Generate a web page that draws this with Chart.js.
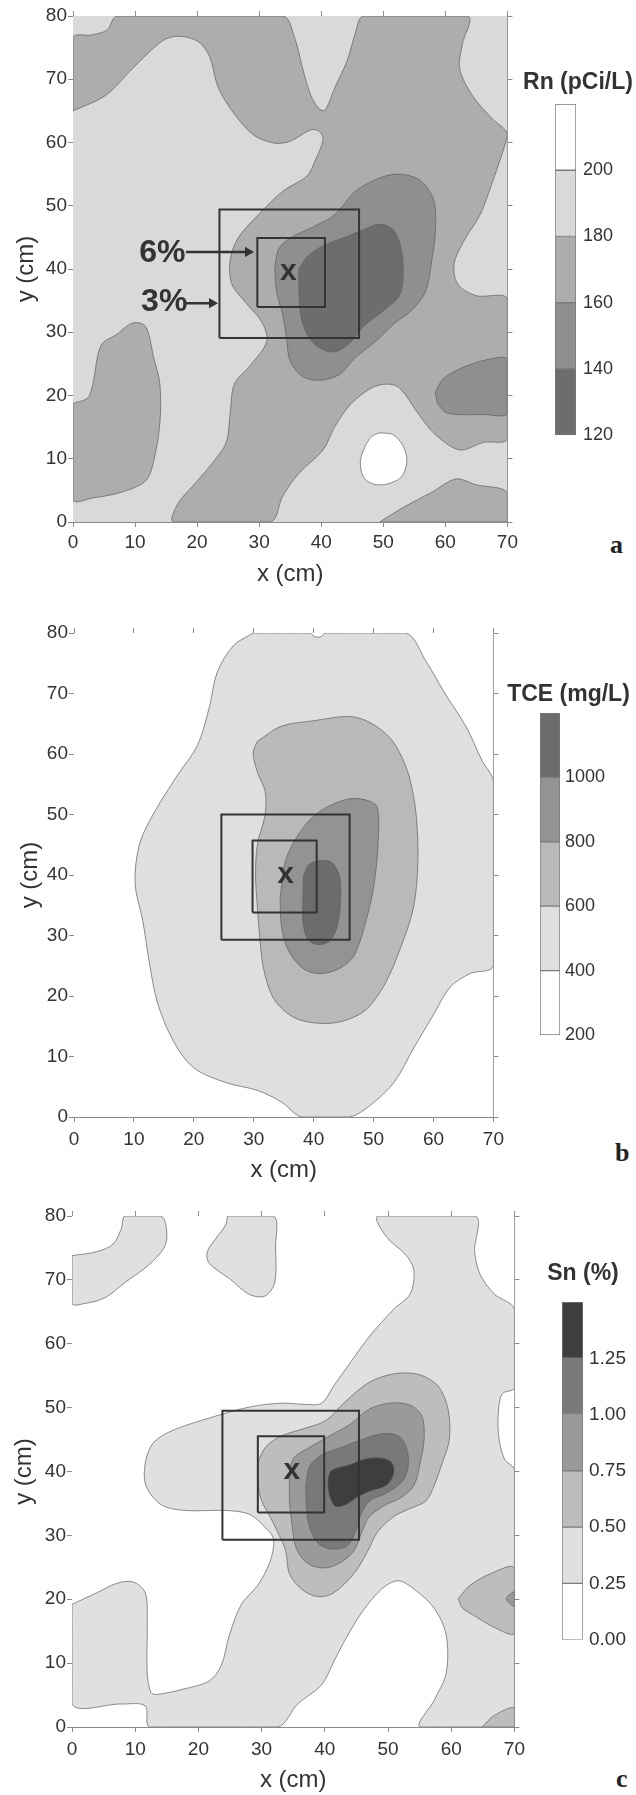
<!DOCTYPE html>
<html>
<head>
<meta charset="utf-8">
<script src="https://cdn.jsdelivr.net/npm/chart.js@4.4.1/dist/chart.umd.min.js"></script>
<style>
  html, body { margin: 0; padding: 0; background: #fff; }
  body { position: relative; width: 636px; height: 1795px; overflow: hidden; }
  canvas { position: absolute; }
  .tag { position: absolute; font: bold 26px "Liberation Serif", "Times New Roman", serif; line-height: 26px; color: #222; }
</style>
</head>
<body>
<canvas id="mainA" width="522" height="600" style="left:0;top:0"></canvas>
<canvas id="barA" width="116" height="393" style="left:520px;top:60px"></canvas>
<canvas id="mainB" width="510" height="595" style="left:0;top:600px"></canvas>
<canvas id="barB" width="127" height="381" style="left:505px;top:670px"></canvas>
<canvas id="mainC" width="531" height="600" style="left:0;top:1195px"></canvas>
<canvas id="barC" width="106" height="407" style="left:530px;top:1250px"></canvas>
<div class="tag" style="left:610px;top:532px">a</div>
<div class="tag" style="left:615px;top:1140px">b</div>
<div class="tag" style="left:616px;top:1766px">c</div>
<script>
// ---- panel a : Rn (pCi/L) ----
const rnLevels = [120, 140, 160, 180, 200, 220];
const rnTicks = [120, 140, 160, 180, 200];
const rnBase = [[0,0],[70,0],[70,80],[0,80]];
const rnSwath = [[0,65],[0,76.6],[3,77],[5.5,77.8],[7.1,80],
  [33.8,80],[35.7,76.6],[37,71.7],[38.3,67.5],[39.6,65.4],[40.6,65.1],[42.2,68.7],[44.2,73],[45.5,77.3],[46.8,80],
  [63.6,80],[62.7,75.4],[62.3,71.7],[64.3,67.5],[67.5,63.8],[70,61.4],
  [69.2,58.4],[67.5,53.5],[65.6,48.6],[62.9,44.3],[61.4,40.7],[62,37.6],[64.9,35.8],[70,35.2],
  [70,13.2],[66.2,12.6],[62.3,11.4],[58.4,13.8],[55.8,16.9],[52.6,21.2],[50.6,21.8],[48.1,21.2],[44.8,18.7],
  [42.2,15.1],[40.3,11.4],[36.4,7.7],[33.8,4.1],[31.8,0],
  [16.2,0],[16.9,2.9],[19.5,5.9],[22.7,9.6],[24.7,12.6],[25.3,16.9],[26,21.8],[28.6,24.8],[31.2,28.5],
  [30.5,31.5],[27.9,34.6],[25.6,37.6],[25.3,41.3],[26.6,44.9],[29.9,48.6],[33.8,52.3],[37.7,54.7],[39,57.1],
  [40.3,60.5],[39.6,61.8],[38.3,62],[35,60.2],[32.5,59.9],[29.2,61.1],[26,64.5],[23.4,68.7],[22,73.6],
  [20.1,76],[16.9,76.8],[14.3,76],[9.7,71.8],[5.2,67.4]];
const rnLeftBlob = [[0,18.7],[2.6,19.9],[4.5,27.9],[7.1,29.7],[9.7,31.5],[11.7,30.9],[13,26],[14,21.8],
  [14,15.7],[13,9.6],[11.7,6.5],[7.8,4.7],[3.2,3.8],[0,3.5]];
const rnBottomStrip = [[49.4,0],[53.2,2.3],[57.8,4.7],[61.7,6.8],[64.9,5.9],[70,4.7],[70,0]];
const rnSpot = [[49.4,14.1],[51.6,13.8],[53.2,12],[53.8,9.6],[52.9,7.1],[50.6,6],[48.4,6],[46.8,7.1],
  [46.3,9.6],[47.1,12],[48.1,13.5]];
const rnRing = [[32.5,40],[33.1,43.1],[35,44.9],[39,46.8],[42.2,48.6],[45.5,52.3],[49.4,54.4],[52.6,55],
  [55.8,54.1],[58.1,51],[58.4,46.2],[57.8,41.3],[56.8,36.4],[54.5,33.4],[51.9,31.5],[48.7,28.5],[45.5,26],
  [42.9,23.3],[39.6,22.4],[37,23],[35,25.4],[34.4,29.1],[33.8,32.7],[32.8,36.4]];
const rnRightBlob = [[58.4,20.5],[59.7,22.7],[63,24.5],[66.9,25.7],[70,25.7],[70,17.2],[66.2,17],[60.4,17.2],[58.8,18.7]];
const rnCore = [[36.4,40],[37.7,41.9],[40.3,43.7],[43.5,44.9],[46.8,46.2],[49.4,47.1],[51.6,46.2],[52.9,43.1],
  [53.2,38.8],[52.6,35.8],[50,33.4],[46.8,30.9],[44.8,28.5],[42.2,26.9],[39.6,27.6],[37.7,29.7],[36.7,32.7],[36.4,36.4]];
const rnBoxes = [[23.6,29.1,46.1,49.4],[29.7,34,40.6,44.9]];
const rnCentre = [34.7, 39.1];
const rnArrows = [[18.2,42.7,28.2,42.7],[18.2,34.6,22.4,34.6]];
const rnArrowLabels = [['6%',14.4,42.5],['3%',14.7,34.8]];

// ---- panel b : TCE (mg/L) ----
const tceLevels = [200, 400, 600, 800, 1000, 1200];
const tceTicks = [200, 400, 600, 800, 1000];
const tceBase = [[0,0],[70,0],[70,80],[0,80]];
const tce400 = [[29.9,80],[39.4,80],[40.1,79.4],[41.3,79.4],[41.9,80],[55.4,80],[58.7,75.4],[62.1,69.7],
  [65.4,64.6],[68.1,58.9],[70,55.4],[70,25],[66.1,23.7],[62.8,21.5],[60.1,17.1],[56.7,11.4],[53.4,5.7],
  [49.4,1.9],[46,0],[38,0],[34.6,2.5],[30.6,4.4],[25.3,5.7],[19.9,8.2],[16.5,12.7],[13.9,19],[12.5,26],
  [11.5,32.3],[10.2,38.6],[10.9,45],[13.2,50],[17.2,56.4],[20.6,61.4],[22.6,67.8],[23.9,73.5],[26.6,77.9]];
const tce600 = [[30.6,62.1],[34.6,64.6],[40,65.5],[46,66.2],[49.4,65.2],[52.7,62.7],[54.7,59.5],[56.1,55.7],
  [57.1,50],[57.4,42.4],[56.7,34.8],[54.7,28.5],[52,22.2],[48.7,17.7],[44.7,15.8],[40.7,15.5],[36.6,16.5],
  [33.3,19.6],[31.6,24.7],[31,29.8],[30.6,34.8],[30.3,39.9],[30.6,45],[31.9,50],[31.9,53.8],[30.6,57],[29.9,60.2]];
const tce800 = [[34.4,36.1],[35.3,42.4],[38,47.5],[41.3,50.7],[46,52.6],[49.4,52.2],[50.7,51],[50.7,44.3],
  [50,38],[48.7,32.3],[46.7,26.6],[44,24.4],[40.7,23.7],[38,24.7],[35.6,27.9],[34.6,31.7]];
const tce1000 = [[38.3,39.9],[39.3,41.8],[41.3,42.4],[43,42.1],[44.3,39.9],[44.5,36.1],[44,31.7],[42.7,29.1],
  [40.7,28.5],[39,29.4],[38.2,32.3],[38.2,36.1]];
const tceBoxes = [[24.6,29.3,46,50],[29.8,33.8,40.5,45.7]];
const tceCentre = [35.3, 39.6];

// ---- panel c : Sn (%) ----
const snLevels = [0, 0.25, 0.5, 0.75, 1.0, 1.25, 1.5];
const snTicks = [0, 0.25, 0.5, 0.75, 1.0, 1.25];
const snBase = [[0,0],[70,0],[70,80],[0,80]];
const snSwath = [[0,19.2],[3.9,21],[7.1,22.5],[9.7,22.7],[11.6,21],[11.9,16.2],[11.9,8.4],[12.5,5.4],[13.5,5.1],
  [17.9,6],[21.7,7.2],[23.6,9.6],[24.9,14.4],[26.8,19.2],[29.4,22.2],[31.3,25.8],[31.9,29.4],[30.6,31.2],
  [28.1,33.3],[24.3,33.9],[17.9,33.9],[14.1,34.8],[11.7,37.8],[11.6,41.4],[12.8,44.4],[15.4,46.2],[20.5,48],
  [28.1,50.1],[33.2,50.7],[37,50.5],[39.5,50.7],[41.4,53.4],[44,57],[47.1,61.2],[50.9,65.4],[53.5,67.8],
  [54.1,71.4],[52.9,73.8],[49.7,76.8],[48.4,80],[63.8,80],[63.7,74.4],[64.6,70.8],[66.8,67.8],[70,65.4],
  [70,53.1],[68.1,52.2],[67.5,49.8],[67.5,45.6],[68.4,42],[70,40.2],[70,0],[55.1,0],[57.3,4.2],[59.2,8.4],
  [59.2,14.4],[57.3,18.6],[54.1,21.6],[51.6,22.9],[49,21.6],[45.9,18],[43.3,13.8],[41.4,10.2],[39.5,6.6],
  [35.7,3.6],[32.5,0],[12.3,0],[11.6,3.3],[7.8,3.6],[0,3.6]];
const snTopLeft = [[0,73.8],[3.9,74.4],[6.5,75.6],[7.8,78],[8.4,80],[14.1,80],[15,77.5],[14.6,75.1],[12.1,72.3],
  [8.4,69.6],[5.2,67.2],[2,66.3],[0,66.3]];
const snTopMid = [[24.6,80],[31.9,80],[32.2,75.1],[32.1,69.7],[30.6,67.5],[28.1,67.7],[24.9,70.2],[21.7,72.6],
  [21.4,74.4],[23,76.8],[24.3,78.6]];
const sn50 = [[29.4,41.4],[30.6,43.8],[33.2,45.6],[37,46.8],[40.2,48],[43.3,51],[47.1,54],[51,55.3],[54.8,55.2],
  [57.9,53.4],[59.5,49.8],[59.7,45],[58.6,41.4],[57.3,37.8],[56,35.4],[53.5,34.2],[51,33],[48.4,30.6],[46.5,27],
  [44.6,24],[41.4,21],[38.9,20.4],[36.3,21.6],[34.4,24],[33.8,27.6],[32.5,30.6],[31.3,33],[30,35.4],[29.4,38.4]];
const sn50Right = [[61.1,20.1],[63,22.2],[66.2,24],[70,24.9],[70,14.7],[66.8,15.6],[63.7,17.4],[61.8,18.6]];
const sn50Corner = [[64.9,0],[66.8,1.8],[70,3],[70,0]];
const sn75 = [[34.4,39],[35,42],[37.6,43.8],[40.8,45.6],[44,47.4],[47.1,49.8],[50.3,50.7],[53.5,50.4],[55.4,48.6],
  [55.7,45],[55.1,41.4],[54.1,37.8],[52.2,36],[49.7,34.8],[47.1,33],[45.9,30.6],[44.6,27.6],[42.1,25.5],
  [39.5,24.9],[37,25.8],[35.4,28.2],[34.8,31.8],[34.4,35.4]];
const sn75Right = [[70,21.3],[68.7,20.1],[70,18.9]];
const sn100 = [[37,37.8],[37.6,40.8],[39.5,42.6],[42.7,43.8],[45.9,45],[49,45.9],[51.6,45.6],[52.9,43.8],[53.2,40.8],
  [52.2,38.4],[49.7,36.6],[47.1,35.4],[45.6,33],[44.6,30],[43.3,28.2],[40.8,27.9],[38.9,28.8],[37.6,31.2],[37.1,34.2]];
const sn125 = [[40.5,39],[41.1,40.2],[44,41.1],[46.5,42],[49,42.1],[50.6,41.4],[50.9,39.6],[49.7,37.8],[47.1,36.9],
  [45.2,36],[43.3,34.8],[41.7,34.5],[40.8,36],[40.5,37.5]];
const snBoxes = [[23.8,29.3,45.4,49.5],[29.4,33.6,39.9,45.5]];
const snCentre = [34.8, 39.6];

// ---- styles ----
const rnFills = ['#6d6d6d', '#8f8f8f', '#adadad', '#d9d9d9', '#ffffff'];
const tceFills = ['#ffffff', '#dfdfdf', '#b9b9b9', '#939393', '#6c6c6c'];
const snFills = ['#ffffff', '#e0e0e0', '#bdbdbd', '#9a9a9a', '#797979', '#3e3e3e'];
const SANS = '"Liberation Sans", Arial, sans-serif';
const INK = '#333';
const FRAME = '#8a8a8a';

const textMarks = {
  id: 'textMarks',
  afterDatasetsDraw(chart, args, opts) {
    const {ctx, scales: {x, y}} = chart;
    (opts.items || []).forEach(it => {
      ctx.save();
      ctx.font = 'bold ' + it.size + 'px ' + SANS;
      ctx.fillStyle = INK;
      ctx.textAlign = 'center';
      ctx.textBaseline = 'middle';
      ctx.fillText(it.text, x.getPixelForValue(it.x), y.getPixelForValue(it.y) + (it.dy || 0));
      ctx.restore();
    });
  }
};

const cbTitle = {
  id: 'cbTitle',
  afterDraw(chart, args, o) {
    const {ctx, chartArea, width} = chart;
    ctx.save();
    ctx.font = 'bold 23px ' + SANS;
    ctx.fillStyle = INK;
    ctx.textAlign = 'center';
    ctx.textBaseline = 'middle';
    ctx.fillText(o.text, width / 2, chartArea.top - o.gap);
    ctx.restore();
  }
};

function closed(pts) {
  return pts.concat([pts[0]]).map(p => ({x: p[0], y: p[1]}));
}
function rectOf(b) {
  return [[b[0], b[1]], [b[2], b[1]], [b[2], b[3]], [b[0], b[3]]];
}

function mainChart(id, p) {
  const ds = [];
  p.regions.forEach((r, i) => {
    ds.push({
      data: closed(r[1]), showLine: true, fill: 'shape',
      backgroundColor: p.fills[r[0]],
      borderColor: r[2] ? 'rgba(0,0,0,0)' : '#5e5e5e',
      borderWidth: r[2] ? 0 : 0.7,
      tension: r[2] ? 0 : 0.32,
      pointRadius: 0, order: 1000 - i
    });
  });
  p.boxes.forEach(b => ds.push({
    data: closed(rectOf(b)), showLine: true, fill: false,
    borderColor: '#333', borderWidth: 2, tension: 0, pointRadius: 0, order: 10
  }));
  (p.arrows || []).forEach(a => ds.push({
    data: [{x: a[0], y: a[1]}, {x: a[2], y: a[3]}], showLine: true, fill: false,
    borderColor: '#333', borderWidth: 2.5, tension: 0,
    pointRadius: [0, 6], pointStyle: 'triangle', rotation: 90,
    pointBackgroundColor: '#333', pointBorderWidth: 0, order: 5
  }));

  const items = [{text: 'x', x: p.centre[0], y: p.centre[1], size: 30, dy: -3}];
  (p.arrowLabels || []).forEach(l => items.push({text: l[0], x: l[1], y: l[2], size: 32}));

  const tickFont = {family: SANS, size: 19};
  const titleFont = {family: SANS, size: 24};
  const grid = {drawOnChartArea: false, tickLength: 5, color: FRAME, lineWidth: 1};
  const border = {color: FRAME, width: 1};

  new Chart(document.getElementById(id), {
    type: 'scatter',
    data: {datasets: ds},
    options: {
      responsive: false, animation: false, events: [],
      plugins: {legend: {display: false}, tooltip: {enabled: false}, textMarks: {items}},
      scales: {
        x: {
          type: 'linear', position: 'bottom', min: 0, max: 70,
          ticks: {stepSize: 10, font: tickFont, color: INK, padding: p.tickPad, maxRotation: 0},
          grid, border,
          title: {display: true, text: 'x (cm)', font: titleFont, color: INK, padding: {top: 0, bottom: p.xTitlePad}},
          afterFit(s) { s.height = p.H - p.bottom; }
        },
        y: {
          type: 'linear', position: 'left', min: 0, max: 80,
          ticks: {stepSize: 10, font: tickFont, color: INK, padding: 1},
          grid, border,
          title: {display: true, text: 'y (cm)', font: titleFont, color: INK, padding: {top: p.yTitlePad, bottom: 0}},
          afterFit(s) { s.width = p.left; }
        },
        xTop: {
          type: 'linear', position: 'top', min: 0, max: 70,
          ticks: {display: false, stepSize: 10}, grid, border,
          afterFit(s) { s.height = p.top; }
        },
        yRight: {
          type: 'linear', position: 'right', min: 0, max: 80,
          ticks: {display: false, stepSize: 10}, grid, border,
          afterFit(s) { s.width = p.W - p.right; }
        }
      }
    },
    plugins: [textMarks]
  });
}

function colorBar(id, c) {
  const n = c.levels.length - 1;
  const datasets = [];
  for (let i = 0; i < n; i++) {
    datasets.push({
      data: [[c.levels[i], c.levels[i + 1]]],
      backgroundColor: c.fills[i], borderColor: '#7a7a7a', borderWidth: 1,
      borderSkipped: false, barPercentage: 1, categoryPercentage: 1, grouped: false
    });
  }
  new Chart(document.getElementById(id), {
    type: 'bar',
    data: {labels: [''], datasets},
    options: {
      responsive: false, animation: false, events: [],
      layout: {padding: {left: c.padLeft, top: c.padTop, right: 0, bottom: 16}},
      plugins: {legend: {display: false}, tooltip: {enabled: false}, cbTitle: {text: c.title, gap: c.gap}},
      scales: {
        x: {display: false},
        y: {
          type: 'linear', position: 'right', min: c.levels[0], max: c.levels[n],
          afterBuildTicks(s) { s.ticks = c.ticks.map(v => ({value: v})); },
          ticks: {font: {family: SANS, size: c.fontSize}, color: INK, padding: c.tickPad, callback: c.fmt},
          grid: {display: false, drawTicks: false}, border: {display: false},
          afterFit(s) { s.width = c.W - c.barRight; }
        }
      }
    },
    plugins: [cbTitle]
  });
}

mainChart('mainA', {
  W: 522, H: 600, left: 73, right: 510, top: 16, bottom: 522,
  tickPad: 4, xTitlePad: 11.6, yTitlePad: 11.6,
  fills: rnFills,
  regions: [[3, rnBase, true], [2, rnSwath], [2, rnLeftBlob], [2, rnBottomStrip], [4, rnSpot],
            [1, rnRing], [1, rnRightBlob], [0, rnCore]],
  boxes: rnBoxes, centre: rnCentre, arrows: rnArrows, arrowLabels: rnArrowLabels
});
colorBar('barA', {
  W: 116, padLeft: 35, barRight: 56, padTop: 44, gap: 21.5, tickPad: 7, fontSize: 18,
  levels: rnLevels, ticks: rnTicks, fills: rnFills.slice().reverse().reverse(), title: 'Rn (pCi/L)',
  fmt: v => String(v)
});

mainChart('mainB', {
  W: 510, H: 595, left: 74, right: 498, top: 33, bottom: 517,
  tickPad: 6, xTitlePad: 10.6, yTitlePad: 15.6,
  fills: tceFills,
  regions: [[0, tceBase, true], [1, tce400], [2, tce600], [3, tce800], [4, tce1000]],
  boxes: tceBoxes, centre: tceCentre
});
colorBar('barB', {
  W: 127, padLeft: 35, barRight: 55, padTop: 43, gap: 18, tickPad: 5, fontSize: 18,
  levels: tceLevels, ticks: tceTicks, fills: tceFills, title: 'TCE (mg/L)',
  fmt: v => String(v)
});

mainChart('mainC', {
  W: 531, H: 600, left: 72, right: 519, top: 21, bottom: 532,
  tickPad: 6, xTitlePad: 0, yTitlePad: 9.6,
  fills: snFills,
  regions: [[0, snBase, true], [1, snSwath], [1, snTopLeft], [1, snTopMid], [2, sn50], [2, sn50Right],
            [2, sn50Corner], [3, sn75], [3, sn75Right], [4, sn100], [5, sn125]],
  boxes: snBoxes, centre: snCentre
});
colorBar('barC', {
  W: 106, padLeft: 32, barRight: 53, padTop: 52, gap: 28, tickPad: 6, fontSize: 19,
  levels: snLevels, ticks: snTicks, fills: snFills, title: 'Sn (%)',
  fmt: v => v.toFixed(2)
});
</script>
</body>
</html>
